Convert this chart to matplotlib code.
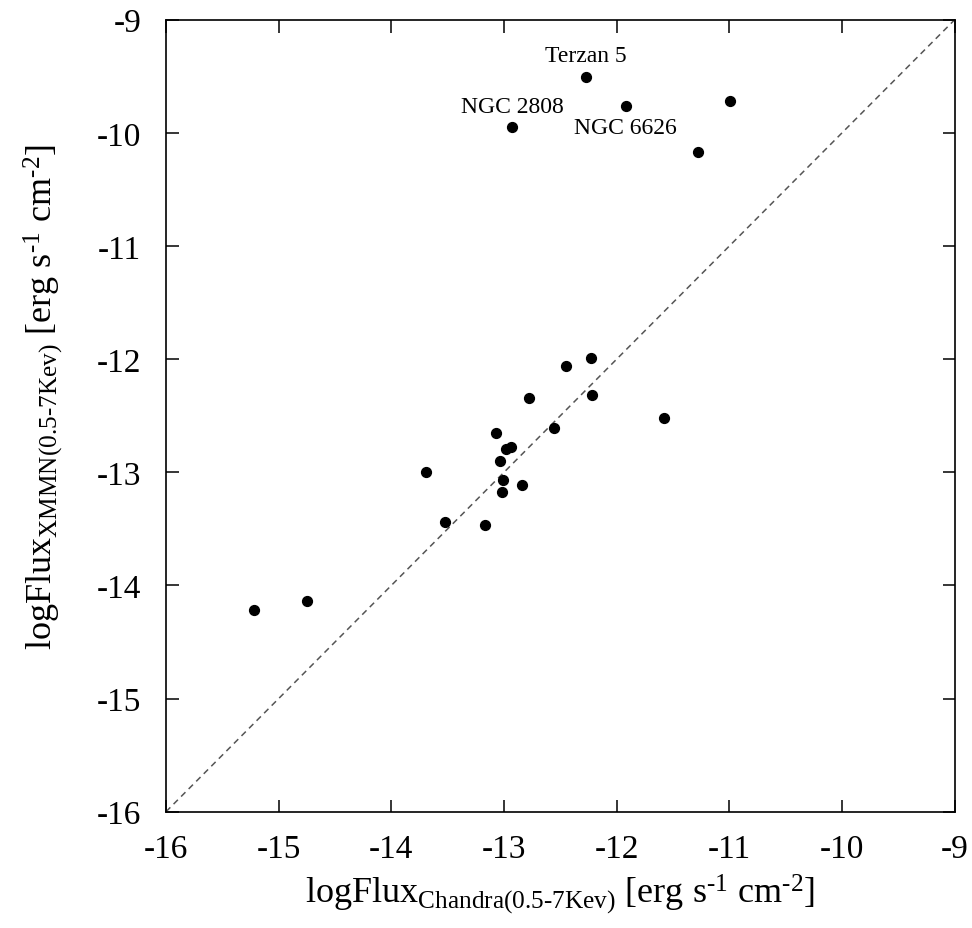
import numpy as np
import matplotlib.pyplot as plt

plt.rcParams['font.family'] = 'Liberation Serif'
plt.rcParams['mathtext.fontset'] = 'custom'
plt.rcParams['mathtext.rm'] = 'Liberation Serif'
plt.rcParams['mathtext.it'] = 'Liberation Serif:italic'
plt.rcParams['axes.unicode_minus'] = False

# log flux values
chandra = [-12.27, -11.92, -12.93, -10.99, -11.28,
           -12.23, -12.45, -12.78, -12.22, -11.58, -12.56, -13.07,
           -12.98, -12.94, -13.04, -13.69, -13.01, -12.84, -13.02,
           -13.52, -13.17, -15.22, -14.75]
xmmn = [-9.51, -9.76, -9.95, -9.72, -10.17,
        -11.99, -12.06, -12.34, -12.32, -12.52, -12.61, -12.65,
        -12.79, -12.78, -12.90, -13.00, -13.07, -13.11, -13.17,
        -13.44, -13.47, -14.22, -14.14]

names = ['Terzan 5', 'NGC 2808', 'NGC 6626']
name_x = [-12.27, -12.93, -11.92]
name_y = [-9.51, -9.95, -9.76]
name_off = [16, 15, -16]  # pt, above / below the point

ticks = [-16, -15, -14, -13, -12, -11, -10, -9]

fig = plt.figure(figsize=(9.72, 9.29), dpi=100)
ax = fig.add_axes([0.1708, 0.1252, 0.8114, 0.8525])

ax.plot([-16, -9], [-16, -9], ls=(0, (4, 3)), color='#555555', lw=1.1)
ax.scatter(chandra, xmmn, s=50, color='black', zorder=3)

for n, x, y, off in zip(names, name_x, name_y, name_off):
    ax.annotate(n, (x, y), xytext=(0, off), textcoords='offset points',
                ha='center', va='center', fontsize=17)

ax.set_xlim(-16, -9)
ax.set_ylim(-16, -9)
ax.set_xticks(ticks)
ax.set_yticks(ticks)
ax.tick_params(direction='in', length=9, width=1.1, labelsize=24,
               top=True, right=True, pad=18)
ax.tick_params(axis='x', pad=16)
for s in ax.spines.values():
    s.set_linewidth(1.2)

ax.set_xlabel(r'logFlux$_{\mathrm{Chandra(0.5\text{-}7Kev)}}$ [erg s$^{\text{-}1}$ cm$^{\text{-}2}$]',
              fontsize=26)
ax.set_ylabel(r'logFlux$_{\mathrm{XMMN(0.5\text{-}7Kev)}}$ [erg s$^{\text{-}1}$ cm$^{\text{-}2}$]',
              fontsize=26)
ax.xaxis.set_label_coords(0.5, -0.075)
ax.yaxis.set_label_coords(-0.128, 0.525)

fig.savefig('out.png', dpi=100)
